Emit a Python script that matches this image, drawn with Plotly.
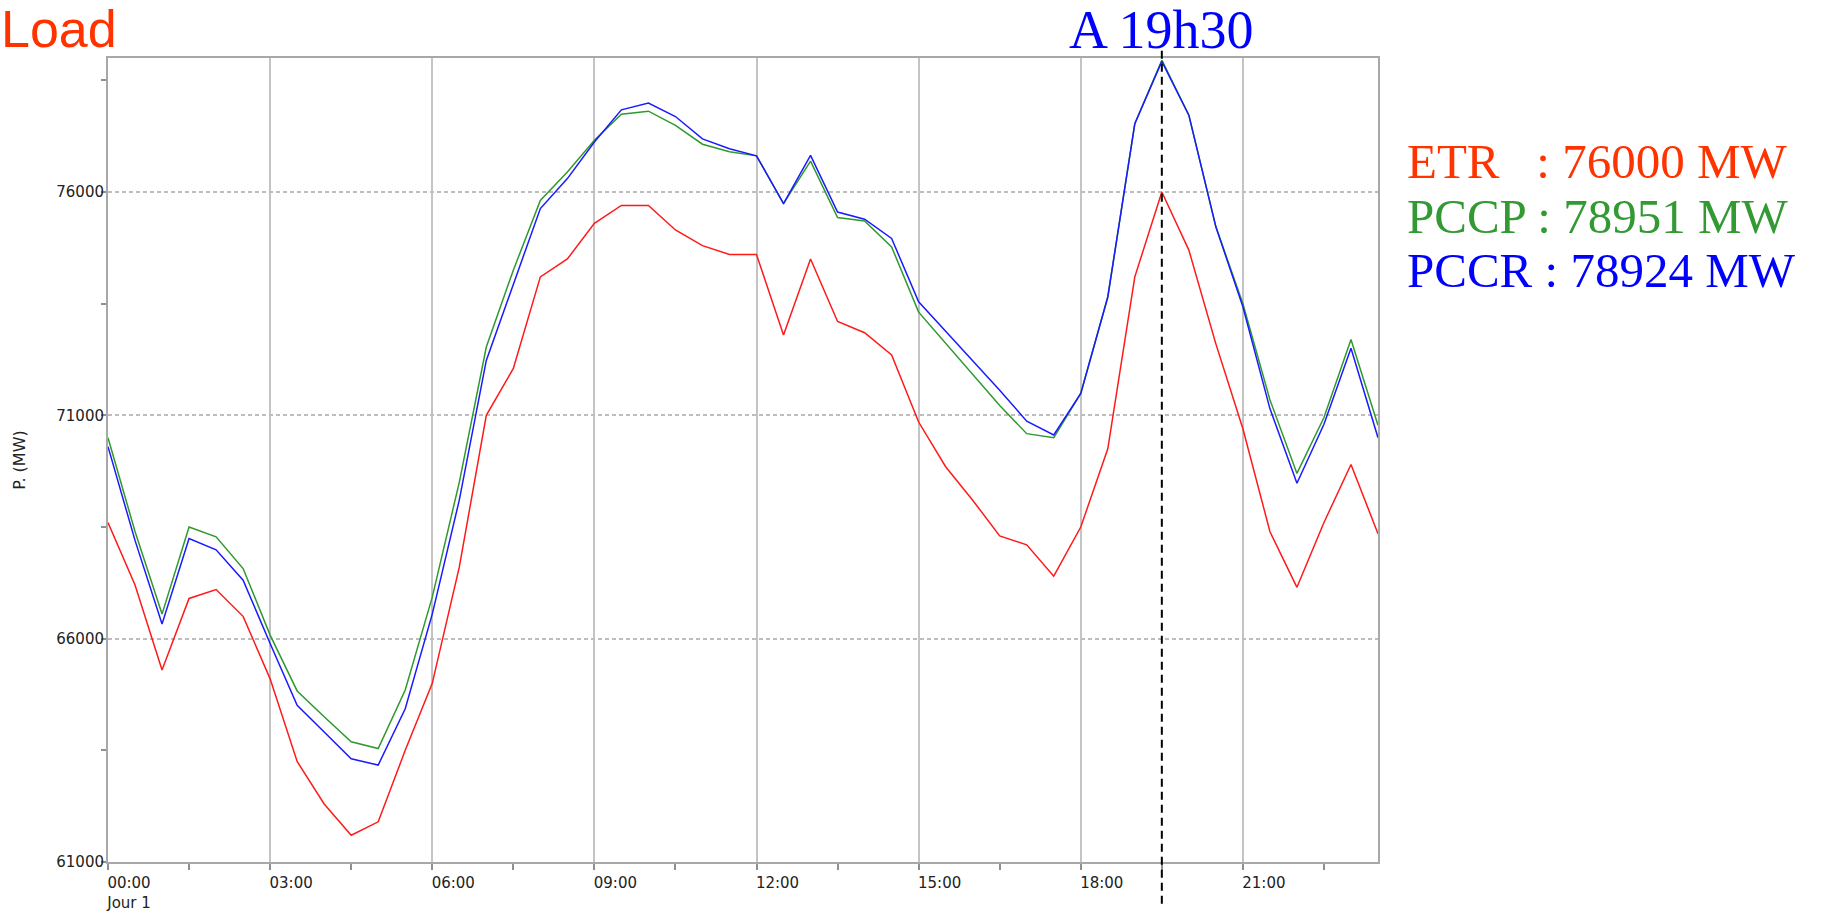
import plotly.graph_objects as go

# ---- data ----
hours = [0, 0.5, 1, 1.5, 2, 2.5, 3, 3.5, 4, 4.5, 5, 5.5, 6, 6.5, 7, 7.5, 8, 8.5, 9, 9.5,
         10, 10.5, 11, 11.5, 12, 12.5, 13, 13.5, 14, 14.5, 15, 15.5, 16, 16.5, 17, 17.5,
         18, 18.5, 19, 19.5, 20, 20.5, 21, 21.5, 22, 22.5, 23, 23.5]

etr = [68600, 67200, 65300, 66900, 67100, 66500, 65100, 63250, 62300, 61600,
       61900, 63500, 65000, 67600, 71000, 72050, 74100, 74500, 75300, 75700,
       75700, 75150, 74800, 74600, 74600, 72800, 74500, 73100, 72850, 72350,
       70850, 69850, 69100, 68300, 68100, 67400, 68500, 70250, 74100, 76000,
       74700, 72600, 70700, 68400, 67150, 68600, 69900, 68350]

pccp = [70500, 68400, 66550, 68500, 68280, 67570, 66080, 64830, 64250, 63690,
        63540, 64850, 66930, 69500, 72530, 74250, 75810, 76450, 77160, 77740,
        77810, 77490, 77070, 76900, 76810, 75740, 76690, 75430, 75350, 74770,
        73310, 72620, 71930, 71220, 70590, 70500, 71490, 73650, 77530, 78951,
        77720, 75220, 73500, 71350, 69700, 70950, 72700, 70780]

pccr = [70300, 68200, 66330, 68240, 67990, 67310, 65890, 64510, 63910, 63310,
        63170, 64430, 66550, 69100, 72230, 73950, 75630, 76300, 77120, 77840,
        77990, 77690, 77190, 76970, 76810, 75740, 76820, 75550, 75390, 74960,
        73540, 72880, 72230, 71560, 70870, 70560, 71490, 73650, 77530, 78924,
        77720, 75220, 73430, 71150, 69480, 70800, 72500, 70500]

x_tickvals = [0, 3, 6, 9, 12, 15, 18, 21]
x_ticktext = ["00:00<br>Jour 1", "03:00", "06:00", "09:00", "12:00", "15:00", "18:00", "21:00"]
y_tickvals = [61000, 66000, 71000, 76000]
y_ticktext = ["61000", "66000", "71000", "76000"]

peak_time = 19.5
peak_label = "A 19h30"
legend_lines = [
    ("ETR\u00a0\u00a0\u00a0: 76000 MW", "#FF3300"),
    ("PCCP : 78951 MW", "#339933"),
    ("PCCR : 78924 MW", "#0000FF"),
]

# ---- figure ----
fig = go.Figure()
fig.add_trace(go.Scatter(x=hours, y=etr, mode="lines", name="ETR",
                         line=dict(color="#FF1A1A", width=1.5)))
fig.add_trace(go.Scatter(x=hours, y=pccp, mode="lines", name="PCCP",
                         line=dict(color="#2E9A2E", width=1.5)))
fig.add_trace(go.Scatter(x=hours, y=pccr, mode="lines", name="PCCR",
                         line=dict(color="#1A1AFF", width=1.5)))

# vertical dashed marker line
fig.add_shape(type="line", xref="x", yref="paper", x0=peak_time, x1=peak_time,
              y0=-0.052, y1=1.013, line=dict(color="black", width=2, dash="8px,5px"))

tickfont = dict(family="DejaVu Sans", size=15, color="#222222")

fig.update_xaxes(range=[0, 23.5], tickmode="array", tickvals=x_tickvals, ticktext=x_ticktext,
                 ticks="outside", ticklen=6, tickcolor="#909090", tickwidth=1.5,
                 ticklabelshift=21, tickfont=tickfont, automargin=False,
                 showgrid=True, gridcolor="#C4C4C4", gridwidth=1.5,
                 showline=True, linecolor="#A8A8A8", linewidth=2, mirror=True,
                 minor=dict(tick0=0, dtick=1.5, ticks="outside", ticklen=6,
                            tickcolor="#909090", tickwidth=1.5, showgrid=False),
                 zeroline=False)
fig.update_yaxes(range=[61000, 79000], tickmode="array", tickvals=y_tickvals, ticktext=y_ticktext,
                 ticks="outside", ticklen=5, tickcolor="#909090", tickwidth=1.5,
                 tickfont=tickfont, ticklabelstandoff=-6, automargin=False,
                 showgrid=True, gridcolor="#BDBDBD", gridwidth=1.5, griddash="4px,3px",
                 showline=True, linecolor="#A8A8A8", linewidth=2, mirror=True,
                 minor=dict(tick0=61000, dtick=2500, ticks="outside", ticklen=5,
                            tickcolor="#909090", tickwidth=1.5, showgrid=False),
                 zeroline=False,
                 title=dict(text="P. (MW)", font=dict(family="DejaVu Sans", size=16, color="#222222"),
                            standoff=27))

# annotations (positions in pixels converted to paper coordinates)
ML, MR, MT, MB = 108, 462, 58, 51
W_PLOT = 1840 - ML - MR
H_PLOT = 913 - MT - MB
def px_x(px):
    return (px - ML) / W_PLOT
def px_y(py):
    return (913 - MB - py) / H_PLOT

fig.add_annotation(text="Load", xref="paper", yref="paper", x=px_x(0), y=px_y(29),
                   xanchor="left", yanchor="middle", showarrow=False, borderpad=0,
                   font=dict(family="Liberation Sans", size=52, color="#FF3300"))
fig.add_annotation(text=peak_label, xref="x", yref="paper", x=peak_time, y=px_y(30),
                   xanchor="center", yanchor="middle", showarrow=False, borderpad=0,
                   font=dict(family="Liberation Serif", size=54, color="#0000FF"))
for i, (txt, col) in enumerate(legend_lines):
    fig.add_annotation(text=txt, xref="paper", yref="paper", x=px_x(1406),
                       y=px_y(216 + 54.4 * (i - 1)), xanchor="left", yanchor="middle",
                       showarrow=False, borderpad=0,
                       font=dict(family="Liberation Serif", size=49, color=col))

fig.update_layout(width=1840, height=913, autosize=False,
                  margin=dict(l=ML, r=MR, t=MT, b=MB, autoexpand=False),
                  paper_bgcolor="white", plot_bgcolor="white",
                  showlegend=False)

fig.write_html("out.html", config={"displayModeBar": False},
               post_script="document.body.style.margin='0';document.body.style.overflow='hidden';")
